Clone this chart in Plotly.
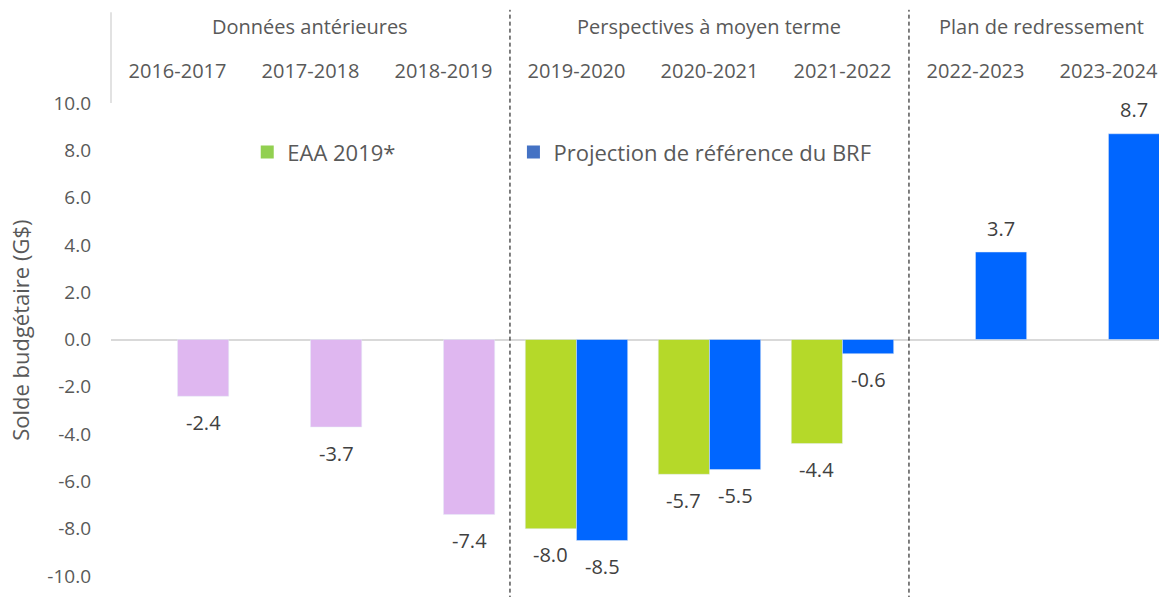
import plotly.graph_objects as go

categories = ["2016-2017", "2017-2018", "2018-2019", "2019-2020", "2020-2021",
              "2021-2022", "2022-2023", "2023-2024"]
eaa_2019 = [None, None, None, -8.0, -5.7, -4.4, None, None]
brf_values = [-2.4, -3.7, -7.4, -8.5, -5.5, -0.6, 3.7, 8.7]
group_labels = ["Données antérieures", "Perspectives à moyen terme", "Plan de redressement"]
group_centers = [1, 4, 6.5]
y_ticks = [-10, -8, -6, -4, -2, 0, 2, 4, 6, 8, 10]

HIST = "#DFB7F0"
GREEN = "#B5D929"
BLUE = "#0066FF"
brf_colors = [HIST] * 3 + [BLUE] * 5

FONT = "Open Sans"
TXT = "#595959"
LBL = "#404040"
BARGAP = 0.23
CAT_PX = 133.0  # pixel width of one category
HALF_SLOT = CAT_PX * (1 - BARGAP) / 4


def fmt(v):
    return "" if v is None else f"{v:.1f}"


fig = go.Figure()
fig.add_trace(go.Bar(x=categories, y=eaa_2019, marker_color=GREEN, showlegend=False))
fig.add_trace(go.Bar(x=categories, y=brf_values, marker_color=brf_colors, showlegend=False))
# legend entries (no data)
fig.add_trace(go.Scatter(x=[None], y=[None], mode="markers", name="EAA 2019*", legend="legend",
                         marker=dict(color="#92D050", symbol="square", size=13)))
fig.add_trace(go.Scatter(x=[None], y=[None], mode="markers", name="Projection de référence du BRF",
                         legend="legend2",
                         marker=dict(color="#4472C4", symbol="square", size=13)))

annotations = []
# data labels
for series, shift in [(eaa_2019, -HALF_SLOT), (brf_values, HALF_SLOT)]:
    for c, v in zip(categories, series):
        if v is None:
            continue
        annotations.append(dict(x=c, y=v, xref="x", yref="y", text=fmt(v), showarrow=False,
                                xanchor="center", yanchor="middle", xshift=shift,
                                yshift=(24 if v > 0 else -26),
                                font=dict(size=20, color=LBL, family=FONT)))

shapes = []
for xv in [2.5, 5.5]:
    shapes.append(dict(type="line", xref="x", yref="paper", x0=xv, x1=xv, y0=-0.05, y1=1.197,
                       line=dict(color="black", width=1, dash="4px,3px")))
shapes.append(dict(type="line", xref="paper", yref="paper", x0=0, x1=0, y0=1.0, y1=1.192,
                   line=dict(color="#D9D9D9", width=1.5)))

for lab, cx in zip(group_labels, group_centers):
    annotations.append(dict(x=cx, y=1.161, xref="x", yref="paper", text=lab, showarrow=False,
                            xanchor="center", yanchor="middle",
                            font=dict(size=20, color=TXT, family=FONT)))
annotations.append(dict(x=-0.087, y=0.52, xref="paper", yref="paper",
                        text="Solde budgétaire (G$)", textangle=-90, showarrow=False,
                        xanchor="center", yanchor="middle",
                        font=dict(size=22, color=TXT, family=FONT)))

legend_style = dict(orientation="h", y=0.896, xanchor="left", yanchor="middle",
                    font=dict(size=22, color=TXT, family=FONT), bgcolor="rgba(0,0,0,0)")

fig.update_layout(
    width=1159, height=597,
    margin=dict(l=111, r=0, t=103, b=21, autoexpand=False),
    paper_bgcolor="white", plot_bgcolor="white",
    barmode="group", bargap=BARGAP, bargroupgap=0,
    font=dict(family=FONT, color=TXT),
    shapes=shapes, annotations=annotations,
    legend=dict(x=0.130, **legend_style),
    legend2=dict(x=0.384, **legend_style),
    xaxis=dict(side="top", range=[-0.5, 7.38], showgrid=False, showline=False,
               ticks="", tickfont=dict(size=20, color=TXT, family=FONT),
               ticklabelstandoff=20, automargin=False),
    yaxis=dict(range=[-10, 10], tickvals=y_ticks, ticktext=[fmt(v) for v in y_ticks],
               showgrid=False,
               zeroline=True, zerolinecolor="#D9D9D9", zerolinewidth=1.5,
               showline=False, ticks="", ticklabelstandoff=19, automargin=False,
               tickfont=dict(size=19, color=TXT, family=FONT)),
)

fig.write_html("out.html", config={"displayModeBar": False},
               post_script="document.body.style.margin='0';")
